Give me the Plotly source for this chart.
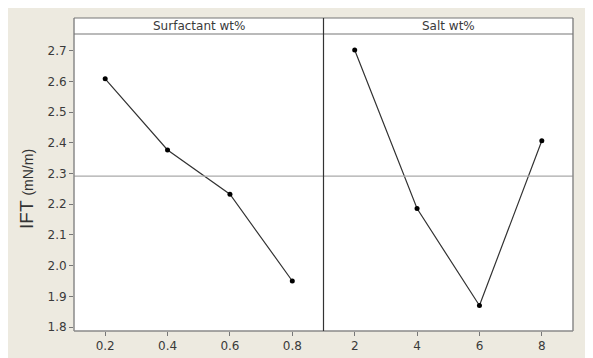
import plotly.graph_objects as go

surfactant_levels = [0.2, 0.4, 0.6, 0.8]
surfactant_ift = [2.609, 2.377, 2.233, 1.950]
salt_levels = [2, 4, 6, 8]
salt_ift = [2.703, 2.186, 1.870, 2.407]
panel_titles = ["Surfactant wt%", "Salt wt%"]
y_ticks = [1.8, 1.9, 2.0, 2.1, 2.2, 2.3, 2.4, 2.5, 2.6, 2.7]
y_tick_text = ["1.8", "1.9", "2.0", "2.1", "2.2", "2.3", "2.4", "2.5", "2.6", "2.7"]
mean_ift = sum(surfactant_ift + salt_ift) / 8

BEIGE = "#EDEAE0"
FONT = "DejaVu Sans"
TXT = "#3A3A3A"

fig = go.Figure()
fig.add_trace(go.Scatter(x=surfactant_levels, y=surfactant_ift, mode="lines+markers",
                         line=dict(color="#333333", width=1.2),
                         marker=dict(color="black", size=5), xaxis="x", yaxis="y",
                         showlegend=False))
fig.add_trace(go.Scatter(x=salt_levels, y=salt_ift, mode="lines+markers",
                         line=dict(color="#333333", width=1.2),
                         marker=dict(color="black", size=5), xaxis="x2", yaxis="y",
                         showlegend=False))

# the page body adds an 8px offset, so margins are given in figure coordinates
L, R, T, B = 66, 28, 10, 35
W, H = 593, 358
pw = W - L - R
ph = H - T - B
strip_px = 16
ydom_top = (ph - strip_px) / ph

axis_common = dict(showgrid=False, zeroline=False, ticks="outside", ticklen=4,
                   tickcolor="#777777", tickfont=dict(family=FONT, size=12, color=TXT),
                   showline=False, automargin=False)

fig.update_layout(
    template="none",
    width=W, height=H,
    margin=dict(l=L, r=R, t=T, b=B, autoexpand=False),
    paper_bgcolor=BEIGE,
    plot_bgcolor="white",
    xaxis=dict(domain=[0, 0.5], range=[0.1, 0.9], tickvals=surfactant_levels,
               ticktext=["0.2", "0.4", "0.6", "0.8"], anchor="y", **axis_common),
    xaxis2=dict(domain=[0.5, 1], range=[1, 9], tickvals=salt_levels,
                ticktext=["2", "4", "6", "8"], anchor="y", **axis_common),
    yaxis=dict(domain=[0, ydom_top], range=[1.787, 2.755], tickvals=y_ticks,
               ticktext=y_tick_text, **axis_common),
)

shapes = []
# white plot area including strip
shapes.append(dict(type="rect", xref="paper", yref="paper", layer="below",
                   x0=0, x1=1, y0=0, y1=1, fillcolor="white", line=dict(width=0)))
# mean reference line
shapes.append(dict(type="line", xref="paper", yref="y", x0=0, x1=1,
                   y0=mean_ift, y1=mean_ift, line=dict(color="#AAAAAA", width=1.2)))
# frame
frame_col = "#8A8A8A"
shapes.append(dict(type="line", xref="paper", yref="paper", x0=0, x1=1, y0=0, y1=0,
                   line=dict(color=frame_col, width=1.5)))
shapes.append(dict(type="line", xref="paper", yref="paper", x0=0, x1=0, y0=0, y1=1,
                   line=dict(color=frame_col, width=1.5)))
shapes.append(dict(type="line", xref="paper", yref="paper", x0=1, x1=1, y0=0, y1=1,
                   line=dict(color=frame_col, width=1.5)))
shapes.append(dict(type="line", xref="paper", yref="paper", x0=0, x1=1, y0=1, y1=1,
                   line=dict(color="#777777", width=1.2)))
shapes.append(dict(type="line", xref="paper", yref="paper", x0=0, x1=1,
                   y0=ydom_top, y1=ydom_top, line=dict(color="#777777", width=1.2)))
shapes.append(dict(type="line", xref="paper", yref="paper", x0=0.5, x1=0.5, y0=0, y1=1,
                   line=dict(color="#333333", width=1.2)))
fig.update_layout(shapes=shapes)

annotations = []
for i, t in enumerate(panel_titles):
    annotations.append(dict(text=t, xref="paper", yref="paper", x=0.25 + 0.5 * i,
                            y=(1 + ydom_top) / 2, showarrow=False,
                            font=dict(family=FONT, size=12, color=TXT),
                            xanchor="center", yanchor="middle"))
annotations.append(dict(text="IFT <span style='font-size:14px'>(mN/m)</span>",
                        xref="paper", yref="paper", x=(18 - L) / pw,
                        y=(T + ph - 181) / ph, textangle=-90, showarrow=False,
                        font=dict(family="Liberation Sans", size=19, color="#333333"),
                        xanchor="center", yanchor="middle"))
fig.update_layout(annotations=annotations)

fig.write_html("out.html")
